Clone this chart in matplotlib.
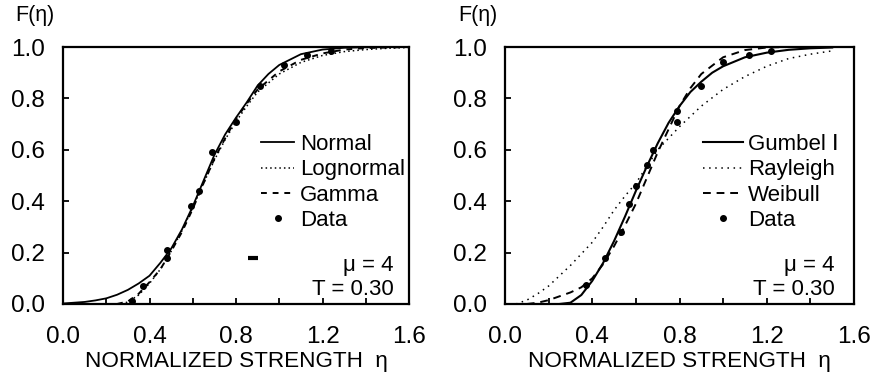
import matplotlib
matplotlib.use("Agg")
import matplotlib.pyplot as plt
from matplotlib.ticker import MultipleLocator


# =========================
# 1. Fonts
# =========================
plt.rcParams["font.family"] = ["Liberation Sans", "DejaVu Sans"]
plt.rcParams["font.size"] = 16


# =========================
# 2. Data
# =========================
# left panel
normal_eta = [0.0, 0.1, 0.15, 0.2, 0.25, 0.3, 0.35, 0.4, 0.45, 0.5, 0.55,
              0.6, 0.65, 0.7, 0.75, 0.8, 0.85, 0.9, 0.95, 1.0, 1.1, 1.2,
              1.3, 1.4, 1.6]
normal_F = [0.002, 0.008, 0.014, 0.022, 0.036, 0.055, 0.08, 0.11, 0.16,
            0.215, 0.29, 0.38, 0.48, 0.58, 0.66, 0.725, 0.785, 0.85, 0.895,
            0.93, 0.972, 0.99, 0.997, 0.999, 1.0]

lognormal_eta = [0.27, 0.3, 0.35, 0.4, 0.45, 0.5, 0.55, 0.6, 0.65, 0.7, 0.75,
                 0.8, 0.85, 0.9, 1.0, 1.1, 1.2, 1.3, 1.4, 1.5, 1.6]
lognormal_F = [0.0, 0.008, 0.035, 0.08, 0.135, 0.205, 0.285, 0.375, 0.47,
               0.56, 0.64, 0.71, 0.77, 0.825, 0.895, 0.94, 0.967, 0.982,
               0.99, 0.995, 0.998]

gamma_eta = [0.25, 0.3, 0.35, 0.4, 0.45, 0.5, 0.55, 0.6, 0.65, 0.7, 0.75,
             0.8, 0.85, 0.9, 1.0, 1.1, 1.2, 1.3, 1.4, 1.6]
gamma_F = [0.0, 0.01, 0.04, 0.085, 0.135, 0.205, 0.28, 0.37, 0.47, 0.565,
           0.645, 0.72, 0.78, 0.835, 0.905, 0.95, 0.975, 0.99, 0.996, 1.0]

left_data_eta = [0.32, 0.37, 0.48, 0.48, 0.59, 0.63, 0.69, 0.80, 0.91, 1.02,
                 1.13, 1.24]
left_data_F = [0.01, 0.07, 0.18, 0.21, 0.38, 0.44, 0.59, 0.71, 0.85, 0.93,
               0.97, 0.985]

# small stray mark in the left panel
stray_eta = [0.88]
stray_F = [0.18]

# right panel
gumbel_eta = [0.25, 0.3, 0.35, 0.4, 0.45, 0.5, 0.55, 0.6, 0.65, 0.7, 0.75,
              0.8, 0.85, 0.9, 0.95, 1.0, 1.1, 1.2, 1.3, 1.4, 1.5]
gumbel_F = [0.0, 0.005, 0.035, 0.09, 0.16, 0.245, 0.34, 0.44, 0.535, 0.625,
            0.705, 0.77, 0.825, 0.865, 0.9, 0.925, 0.96, 0.978, 0.989,
            0.995, 0.998]

rayleigh_eta = [0.05, 0.1, 0.15, 0.2, 0.25, 0.3, 0.35, 0.4, 0.45, 0.5, 0.55,
                0.6, 0.7, 0.8, 0.9, 1.0, 1.1, 1.2, 1.3, 1.4, 1.5]
rayleigh_F = [0.0, 0.015, 0.04, 0.07, 0.11, 0.15, 0.195, 0.24, 0.30, 0.365,
              0.42, 0.47, 0.60, 0.69, 0.77, 0.835, 0.885, 0.925, 0.955,
              0.972, 0.985]

weibull_eta = [0.1, 0.15, 0.2, 0.25, 0.3, 0.35, 0.4, 0.45, 0.5, 0.55, 0.6,
               0.65, 0.7, 0.75, 0.8, 0.85, 0.9, 1.0, 1.1, 1.2, 1.3]
weibull_F = [0.0, 0.005, 0.015, 0.03, 0.045, 0.065, 0.10, 0.155, 0.225,
             0.305, 0.39, 0.49, 0.59, 0.68, 0.77, 0.84, 0.895, 0.96, 0.988,
             0.998, 1.0]

right_data_eta = [0.37, 0.46, 0.53, 0.57, 0.60, 0.65, 0.68, 0.79, 0.79, 0.90,
                  1.00, 1.12, 1.22]
right_data_F = [0.075, 0.18, 0.28, 0.39, 0.46, 0.54, 0.60, 0.71, 0.75, 0.85,
                0.94, 0.97, 0.985]

x_ticks = [0.0, 0.4, 0.8, 1.2, 1.6]
x_ticklabels = ["0.0", "0.4", "0.8", "1.2", "1.6"]
y_ticks = [0.0, 0.2, 0.4, 0.6, 0.8, 1.0]
y_ticklabels = ["0.0", "0.2", "0.4", "0.6", "0.8", "1.0"]


# =========================
# 3. Shared axis styling
# =========================
def style_axis(ax):
    ax.set_xlim(0, 1.6)
    ax.set_ylim(0, 1.0)
    ax.set_xticks(x_ticks)
    ax.set_xticklabels(x_ticklabels)
    ax.set_yticks(y_ticks)
    ax.set_yticklabels(y_ticklabels)
    ax.xaxis.set_minor_locator(MultipleLocator(0.2))
    ax.tick_params(axis="x", which="both", direction="in", length=4,
                   width=1.3, pad=16, labelsize=17.5)
    ax.tick_params(axis="y", which="both", direction="in", length=4,
                   width=1.3, pad=13, labelsize=17.5)
    for sp in ax.spines.values():
        sp.set_linewidth(1.6)
    ax.set_xlabel("NORMALIZED STRENGTH  η", fontsize=16.2, labelpad=2)


fig = plt.figure(figsize=(8.71, 3.74), dpi=100)
ax1 = fig.add_axes([63 / 871, 70 / 374, 346 / 871, 257 / 374])
ax2 = fig.add_axes([505 / 871, 70 / 374, 349 / 871, 257 / 374])

leg_kw = dict(loc="upper left", frameon=False, handletextpad=0.25,
              labelspacing=0.2, borderpad=0, fontsize=16)

# left panel
ax1.plot(normal_eta, normal_F, color="black", lw=1.3, label="Normal")
ax1.plot(lognormal_eta, lognormal_F, color="black", lw=1.1,
         linestyle=(0, (1, 2)), label="Lognormal")
ax1.plot(gamma_eta, gamma_F, color="black", lw=1.4,
         linestyle=(0, (3, 3)), label="Gamma")
ax1.plot(left_data_eta, left_data_F, "o", color="black", ms=4,
         label="Data")
ax1.plot(stray_eta, stray_F, "_", color="black", ms=7, mew=3)
style_axis(ax1)
ax1.legend(bbox_to_anchor=(0.54, 0.705), handlelength=1.5, **leg_kw)
ax1.text(0.955, 0.15, "μ = 4", transform=ax1.transAxes, ha="right",
         va="center", fontsize=16)
ax1.text(0.955, 0.055, "T = 0.30", transform=ax1.transAxes, ha="right",
         va="center", fontsize=16)

# right panel
ax2.plot(gumbel_eta, gumbel_F, color="black", lw=1.5, label="Gumbel Ⅰ")
ax2.plot(rayleigh_eta, rayleigh_F, color="black", lw=1.1,
         linestyle=(0, (1, 3)), label="Rayleigh")
ax2.plot(weibull_eta, weibull_F, color="black", lw=1.4,
         linestyle=(0, (4, 3)), label="Weibull")
ax2.plot(right_data_eta, right_data_F, "o", color="black", ms=4,
         label="Data")
style_axis(ax2)
ax2.legend(bbox_to_anchor=(0.535, 0.705), handlelength=1.8, **leg_kw)
ax2.text(0.945, 0.15, "μ = 4", transform=ax2.transAxes, ha="right",
         va="center", fontsize=16)
ax2.text(0.945, 0.055, "T = 0.30", transform=ax2.transAxes, ha="right",
         va="center", fontsize=16)

# F(eta) labels above the y axes
fig.text(15 / 871, 1 - 16 / 374, "F(η)", ha="left", va="center",
         fontsize=15.5)
fig.text(458 / 871, 1 - 16 / 374, "F(η)", ha="left", va="center",
         fontsize=15.5)

fig.savefig("out.png", dpi=100)
